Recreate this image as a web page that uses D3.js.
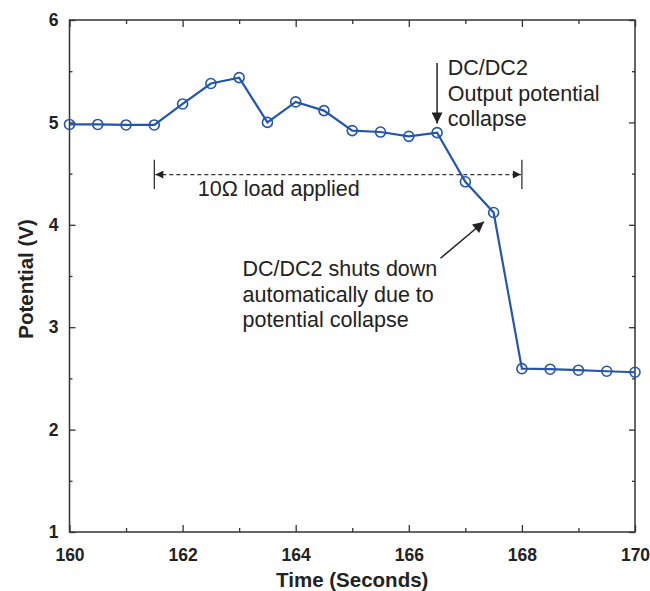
<!DOCTYPE html>
<html>
<head>
<meta charset="utf-8">
<script src="https://cdn.jsdelivr.net/npm/d3@7"></script>
<style>
  body { margin: 0; background: #fff; }
  svg { display: block; font-family: "Liberation Sans", Arial, sans-serif; }
  .axis path { display: none; }
  .axis line { stroke: #333; stroke-width: 1.3; }
  .axis text { font-size: 17.5px; font-weight: bold; fill: #222; font-family: "Liberation Sans", Arial, sans-serif; }
  .note { font-size: 21.5px; fill: #222; }
</style>
</head>
<body>
<div id="chart"></div>
<script>
// data
const times = [160, 160.5, 161, 161.5, 162, 162.5, 163, 163.5, 164, 164.5, 165,
               165.5, 166, 166.5, 167, 167.5, 168, 168.5, 169, 169.5, 170];
const potential = [4.98, 4.98, 4.975, 4.975, 5.18, 5.38, 5.437, 5.0, 5.2, 5.115, 4.92,
                   4.906, 4.864, 4.9, 4.42, 4.12, 2.595, 2.59, 2.58, 2.57, 2.56];
const xTicks = [160, 162, 164, 166, 168, 170];
const xMinor = [161, 163, 165, 167, 169];
const yTicks = [1, 2, 3, 4, 5, 6];
const yMinor = [1.5, 2.5, 3.5, 4.5, 5.5];

const width = 650, height = 591;
const x = d3.scaleLinear().domain([160, 170]).range([69.5, 635]);
const y = d3.scaleLinear().domain([1, 6]).range([532, 20]);

const svg = d3.select('#chart').append('svg')
    .attr('width', width)
    .attr('height', height);

svg.append('defs').append('marker')
    .attr('id', 'head')
    .attr('viewBox', '0 0 10 10')
    .attr('refX', 10).attr('refY', 5)
    .attr('markerUnits', 'userSpaceOnUse')
    .attr('markerWidth', 9).attr('markerHeight', 8)
    .attr('orient', 'auto-start-reverse')
    .append('path')
    .attr('d', 'M0,0 L10,5 L0,10 Z')
    .attr('fill', '#222');

svg.select('defs').append('marker')
    .attr('id', 'bighead')
    .attr('viewBox', '0 0 10 10')
    .attr('refX', 10).attr('refY', 5)
    .attr('markerUnits', 'userSpaceOnUse')
    .attr('markerWidth', 14).attr('markerHeight', 11)
    .attr('orient', 'auto')
    .append('path')
    .attr('d', 'M0,0 L10,5 L0,10 Z')
    .attr('fill', '#222');

// axes, ticks pointing inward
svg.append('g').attr('class', 'axis')
    .attr('transform', `translate(0,${y(1)})`)
    .call(d3.axisBottom(x).tickValues(xTicks).tickSize(-7).tickPadding(17).tickFormat(d3.format('d')));
svg.append('g').attr('class', 'axis')
    .attr('transform', `translate(0,${y(1)})`)
    .call(d3.axisBottom(x).tickValues(xMinor).tickSize(-4).tickFormat(''));
svg.append('g').attr('class', 'axis')
    .attr('transform', `translate(0,${y(6)})`)
    .call(d3.axisTop(x).tickValues(xTicks).tickSize(-7).tickFormat(''));
svg.append('g').attr('class', 'axis')
    .attr('transform', `translate(0,${y(6)})`)
    .call(d3.axisTop(x).tickValues(xMinor).tickSize(-4).tickFormat(''));

svg.append('g').attr('class', 'axis')
    .attr('transform', `translate(${x(160)},0)`)
    .call(d3.axisLeft(y).tickValues(yTicks).tickSize(-6).tickPadding(11).tickFormat(d3.format('d')));
svg.append('g').attr('class', 'axis')
    .attr('transform', `translate(${x(160)},0)`)
    .call(d3.axisLeft(y).tickValues(yMinor).tickSize(-3).tickFormat(''));
svg.append('g').attr('class', 'axis')
    .attr('transform', `translate(${x(170)},0)`)
    .call(d3.axisRight(y).tickValues(yTicks).tickSize(-6).tickFormat(''));
svg.append('g').attr('class', 'axis')
    .attr('transform', `translate(${x(170)},0)`)
    .call(d3.axisRight(y).tickValues(yMinor).tickSize(-3).tickFormat(''));

// box
svg.append('rect')
    .attr('x', x(160)).attr('y', y(6))
    .attr('width', x(170) - x(160)).attr('height', y(1) - y(6))
    .attr('fill', 'none').attr('stroke', '#333').attr('stroke-width', 1.5);

// axis titles
svg.append('text')
    .attr('x', (x(160) + x(170)) / 2).attr('y', 587)
    .attr('text-anchor', 'middle')
    .attr('font-size', 20.5).attr('font-weight', 'bold').attr('fill', '#222')
    .text('Time (Seconds)');
svg.append('text')
    .attr('transform', `translate(33,${y(3.5) + 3}) rotate(-90)`)
    .attr('text-anchor', 'middle')
    .attr('font-size', 20.5).attr('font-weight', 'bold').attr('fill', '#222')
    .text('Potential (V)');

// series
const pts = times.map((t, i) => ({ t, v: potential[i] }));
svg.append('path')
    .datum(pts)
    .attr('fill', 'none')
    .attr('stroke', '#2456ab')
    .attr('stroke-width', 2.2)
    .attr('d', d3.line().x(d => x(d.t)).y(d => y(d.v)));
svg.append('g').selectAll('circle')
    .data(pts).enter()
    .append('circle')
    .attr('cx', d => x(d.t))
    .attr('cy', d => y(d.v))
    .attr('r', 5)
    .attr('fill', 'none')
    .attr('stroke', '#2456ab')
    .attr('stroke-width', 1.6);

// load span annotation
const loadStart = 161.5, loadEnd = 168, loadY = 4.49;
[loadStart, loadEnd].forEach(t => {
    svg.append('line')
        .attr('x1', x(t)).attr('x2', x(t))
        .attr('y1', y(loadY + 0.145)).attr('y2', y(loadY - 0.14))
        .attr('stroke', '#333').attr('stroke-width', 1.3);
});
svg.append('line')
    .attr('x1', x(loadStart) + 1).attr('x2', x(loadEnd) - 1)
    .attr('y1', y(loadY)).attr('y2', y(loadY))
    .attr('stroke', '#333').attr('stroke-width', 1.2)
    .attr('stroke-dasharray', '4,3')
    .attr('marker-start', 'url(#head)')
    .attr('marker-end', 'url(#head)');
svg.append('text').attr('class', 'note')
    .attr('x', x(162.27)).attr('y', y(4.28))
    .text('10Ω load applied');

// collapse annotation
svg.append('line')
    .attr('x1', x(166.5)).attr('x2', x(166.5))
    .attr('y1', y(5.58)).attr('y2', y(4.99))
    .attr('stroke', '#222').attr('stroke-width', 1.5)
    .attr('marker-end', 'url(#bighead)');
const collapseLines = ['DC/DC2', 'Output potential', 'collapse'];
svg.append('g').selectAll('text')
    .data(collapseLines).enter()
    .append('text').attr('class', 'note')
    .attr('x', x(166.69))
    .attr('y', (d, i) => y(5.46) + i * 25.5)
    .text(d => d);

// shut down annotation
svg.append('line')
    .attr('x1', x(166.56)).attr('y1', y(3.673))
    .attr('x2', x(167.33)).attr('y2', y(4.03))
    .attr('stroke', '#222').attr('stroke-width', 1.5)
    .attr('marker-end', 'url(#bighead)');
const shutLines = ['DC/DC2 shuts down', 'automatically due to', 'potential collapse'];
svg.append('g').selectAll('text')
    .data(shutLines).enter()
    .append('text').attr('class', 'note')
    .attr('x', x(163.06))
    .attr('y', (d, i) => y(3.5) + i * 25.7)
    .text(d => d);
</script>
</body>
</html>
